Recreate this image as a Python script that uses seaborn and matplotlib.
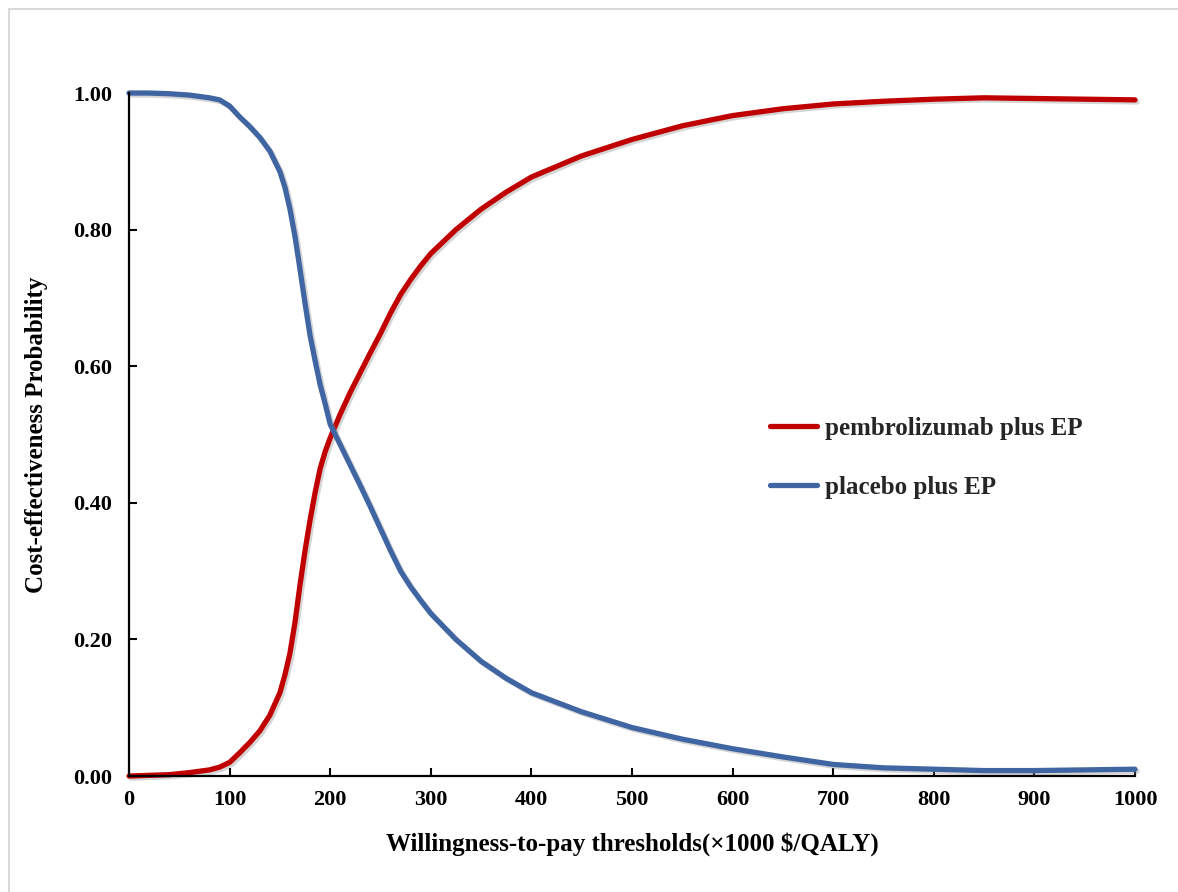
import numpy as np
import pandas as pd
import matplotlib
matplotlib.use("Agg")
import matplotlib.pyplot as plt
import matplotlib.patheffects as pe
from matplotlib.lines import Line2D
import seaborn as sns

# ---- data ----
wtp = [0, 20, 40, 60, 80, 90, 100, 110, 120, 130, 140, 150, 155, 160, 165,
       170, 175, 180, 185, 190, 195, 200, 210, 220, 230, 240, 250, 260, 270,
       280, 290, 300, 325, 350, 375, 400, 450, 500, 550, 600, 650, 700, 750,
       800, 850, 900, 950, 1000]
pembro = [0.000, 0.001, 0.002, 0.005, 0.009, 0.013, 0.020, 0.034, 0.049, 0.066,
          0.089, 0.122, 0.148, 0.180, 0.225, 0.280, 0.330, 0.375, 0.415, 0.450,
          0.475, 0.495, 0.530, 0.562, 0.591, 0.620, 0.648, 0.678, 0.705, 0.727,
          0.747, 0.765, 0.800, 0.830, 0.855, 0.877, 0.908, 0.932, 0.952, 0.967,
          0.977, 0.984, 0.988, 0.991, 0.993, 0.992, 0.991, 0.990]
placebo = [1.000, 1.000, 0.999, 0.997, 0.993, 0.990, 0.981, 0.965, 0.951, 0.935,
           0.915, 0.885, 0.862, 0.830, 0.790, 0.742, 0.692, 0.645, 0.608, 0.573,
           0.545, 0.515, 0.485, 0.455, 0.425, 0.394, 0.362, 0.330, 0.300, 0.277,
           0.257, 0.238, 0.200, 0.168, 0.143, 0.122, 0.094, 0.071, 0.054, 0.040,
           0.028, 0.017, 0.012, 0.010, 0.008, 0.008, 0.009, 0.010]
series_names = ["pembrolizumab plus EP", "placebo plus EP"]
x_ticks = [0, 100, 200, 300, 400, 500, 600, 700, 800, 900, 1000]
y_ticks = [0.0, 0.2, 0.4, 0.6, 0.8, 1.0]
x_label = "Willingness-to-pay thresholds(\u00d71000 $/QALY)"
y_label = "Cost-effectiveness Probability"

df = pd.DataFrame({
    "wtp": wtp + wtp,
    "prob": pembro + placebo,
    "strategy": [series_names[0]] * len(wtp) + [series_names[1]] * len(wtp),
})

sns.set_theme(style="white")
plt.rcParams["font.family"] = ["Liberation Serif", "DejaVu Serif"]
plt.rcParams["font.weight"] = "bold"

fig = plt.figure(figsize=(11.78, 8.92), dpi=100)
ax = fig.add_axes([0.1095, 0.130, 0.854, 0.7657])

palette = {series_names[0]: "#C00000", series_names[1]: "#3F65A2"}
sns.lineplot(data=df, x="wtp", y="prob", hue="strategy", palette=palette,
             linewidth=3.8, ax=ax, legend=True)

for line in ax.get_lines():
    line.set_clip_on(False)
    line.set_solid_capstyle("round")
    line.set_solid_joinstyle("round")
    line.set_path_effects([
        pe.SimpleLineShadow(offset=(1.5, -1.5), shadow_color="#888888", alpha=0.35),
        pe.Normal(),
    ])

ax.set_xlim(0, 1000)
ax.set_ylim(0, 1)
ax.set_xticks(x_ticks)
ax.set_xticklabels([str(t) for t in x_ticks])
ax.set_yticks(y_ticks)
ax.set_yticklabels([f"{t:.2f}" for t in y_ticks])

for s in ["top", "right"]:
    ax.spines[s].set_visible(False)
for s in ["left", "bottom"]:
    ax.spines[s].set_visible(True)
    ax.spines[s].set_color("black")
    ax.spines[s].set_linewidth(1.6)

ax.tick_params(axis="x", direction="in", length=6, width=1.5, colors="black",
               labelsize=16, pad=10, bottom=True)
ax.tick_params(axis="y", direction="in", length=6, width=1.5, colors="black",
               labelsize=16, pad=12, left=True)
for lab in ax.get_xticklabels() + ax.get_yticklabels():
    lab.set_fontweight("bold")

ax.set_xlabel(x_label, fontsize=18, fontweight="bold", labelpad=16, color="black")
ax.set_ylabel(y_label, fontsize=18, fontweight="bold", labelpad=18, color="black")

handles, labels = ax.get_legend_handles_labels()
for h in handles:
    h.set_path_effects([])
leg = ax.legend(handles, labels, loc="center left", bbox_to_anchor=(0.637, 0.466),
                frameon=False, handlelength=1.9, handletextpad=0.32,
                labelspacing=1.42, borderpad=0, borderaxespad=0,
                prop={"weight": "bold", "size": 18})
for h in leg.legend_handles:
    h.set_linewidth(3.8)
    h.set_solid_capstyle("round")

ax.grid(False)
ax.set_facecolor("white")

# light outer frame (top and left edges, as in the reference image)
W, H = 1178, 892
fig.add_artist(Line2D([9 / W, 1.0], [1 - 9 / H, 1 - 9 / H], color="#D9D9D9",
                      linewidth=1.5, transform=fig.transFigure))
fig.add_artist(Line2D([9 / W, 9 / W], [0.0, 1 - 9 / H], color="#D9D9D9",
                      linewidth=1.5, transform=fig.transFigure))

fig.savefig("out.png", dpi=100, facecolor="white")
